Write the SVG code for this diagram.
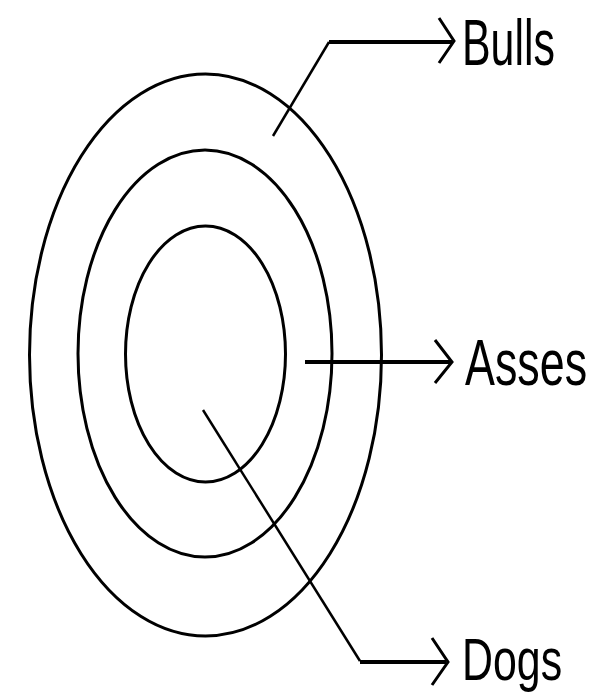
<svg xmlns="http://www.w3.org/2000/svg" width="597" height="694" viewBox="0 0 597 694">
  <style>
    .ring { fill: none; stroke: #000; stroke-width: 3; }
    .lead { fill: none; stroke: #000; stroke-width: 2.5; }
    .shaft { fill: none; stroke: #000; stroke-width: 4; }
    .head { fill: none; stroke: #000; stroke-width: 3; }
    .lbl { font-family: "Liberation Sans", Arial, sans-serif; font-size: 65px; fill: #000; }
  </style>
  <rect width="597" height="694" fill="#fff"/>
  <g id="bulls-ring">
    <ellipse class="ring" cx="205.5" cy="355" rx="176" ry="281"/>
  </g>
  <g id="asses-ring">
    <ellipse class="ring" cx="205" cy="353.5" rx="127" ry="203.5"/>
  </g>
  <g id="dogs-ring">
    <ellipse class="ring" cx="205.5" cy="354" rx="80" ry="128"/>
  </g>
  <g id="connectors">
    <polyline class="lead" points="273,136 329,42"/>
    <line class="shaft" x1="329" y1="42" x2="452" y2="42"/>
    <polyline class="head" points="439,18 454,41 439,63"/>
    <line class="shaft" x1="305" y1="362" x2="450" y2="362"/>
    <polyline class="head" points="435,340 452,362 435,383"/>
    <polyline class="lead" points="203,410 360,661"/>
    <line class="shaft" x1="360" y1="662" x2="446" y2="662"/>
    <polyline class="head" points="432,638 448,662 432,685"/>
  </g>
  <g id="bulls" transform="translate(462,65) scale(0.66,1)">
    <text class="lbl" x="0" y="0">Bulls</text>
  </g>
  <g id="asses" transform="translate(465,385) scale(0.69,1)">
    <text class="lbl" x="0" y="0">Asses</text>
  </g>
  <g id="dogs" transform="translate(462,680) scale(0.66,0.9)">
    <text class="lbl" x="0" y="0">Dogs</text>
  </g>
</svg>
